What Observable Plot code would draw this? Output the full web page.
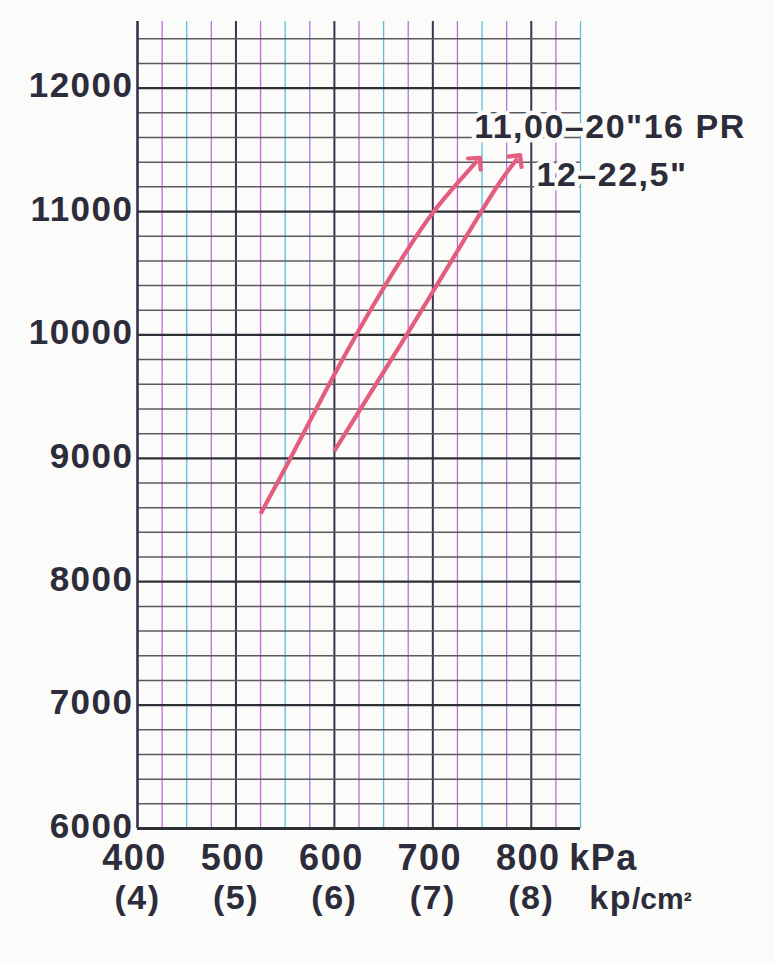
<!DOCTYPE html>
<html>
<head>
<meta charset="utf-8">
<script src="https://cdn.jsdelivr.net/npm/d3@7"></script>
<script src="https://cdn.jsdelivr.net/npm/@observablehq/plot@0.6"></script>
<style>
  html, body { margin: 0; padding: 0; background: #fbfbf9; }
  #chart svg { display: block; background: transparent; font-family: "Liberation Sans", Arial, Helvetica, sans-serif; }
  #chart svg text { letter-spacing: 1.5px; }
</style>
</head>
<body>
<div id="chart"></div>
<script>
// ---- data ----
const xTicks = [400, 500, 600, 700, 800];                       // kPa
const kpTicks = ["(4)", "(5)", "(6)", "(7)", "(8)"];           // kp/cm²
const yTicks = [6000, 7000, 8000, 9000, 10000, 11000, 12000];  // load
const seriesNames = ["11,00–20\"16 PR", "12–22,5\""];

// 11,00-20" 16 PR
const aPressure = [525, 550, 575, 600, 625, 650, 675, 700, 725, 745];
const aLoad     = [8550, 8920, 9300, 9680, 10040, 10380, 10700, 10990, 11230, 11410];
// 12-22,5"
const bPressure = [600, 625, 650, 675, 700, 725, 750, 770, 786];
const bLoad     = [9060, 9380, 9700, 10020, 10350, 10680, 11010, 11260, 11430];

// ---- derived tables ----
const hGrid = d3.range(6000, 12401, 200);
const vGrid = d3.range(400, 851, 25);
const rowsA = aPressure.map((p, i) => ({p, load: aLoad[i]}));
const rowsB = bPressure.map((p, i) => ({p, load: bLoad[i]}));
const lastA = [rowsA[rowsA.length - 1]];
const lastB = [rowsB[rowsB.length - 1]];

const ink = "#2d2c3a";
const paper = "#fbfbf9";
const curveColor = "#e45d7e";
const font = "Liberation Sans, Arial, sans-serif";

const chart = Plot.plot({
  width: 774,
  height: 963,
  marginLeft: 137,
  marginRight: 194,
  marginTop: 21,
  marginBottom: 135,
  x: {domain: [400, 850], axis: null},
  y: {domain: [6000, 12540], axis: null},
  marks: [
    // vertical grid (printed colour lines)
    Plot.ruleX(vGrid.filter((d, i) => i % 4 === 1), {stroke: "#c46ad3", strokeWidth: 1.3}),
    Plot.ruleX(vGrid.filter((d, i) => i % 4 === 2), {stroke: "#5cbedb", strokeWidth: 1.3}),
    Plot.ruleX(vGrid.filter((d, i) => i % 4 === 3), {stroke: "#b07ad8", strokeWidth: 1.3}),
    Plot.ruleX(vGrid.filter((d, i) => i % 4 === 0 && d !== 400), {stroke: "#3b3350", strokeWidth: 2}),
    // horizontal grid
    Plot.ruleY(hGrid.filter(d => d % 1000 !== 0), {x1: 400, x2: 850, stroke: "#5a5a60", strokeWidth: 1.5}),
    Plot.ruleY(hGrid.filter(d => d % 1000 === 0 && d !== 6000), {x1: 400, x2: 850, stroke: "#2f2f36", strokeWidth: 2.3}),
    // axes frame lines
    Plot.ruleX([400], {stroke: "#3a3150", strokeWidth: 2.6}),
    Plot.ruleY([6000], {x1: 400, x2: 850, stroke: "#2f2f36", strokeWidth: 3}),
    // curves
    Plot.line(rowsA, {x: "p", y: "load", stroke: curveColor, strokeWidth: 4.2, curve: "natural", markerEnd: "arrow", strokeLinecap: "butt"}),
    Plot.line(rowsB, {x: "p", y: "load", stroke: curveColor, strokeWidth: 4.2, curve: "natural", markerEnd: "arrow", strokeLinecap: "butt"}),
    // curve labels
    Plot.text(lastA, {x: "p", y: "load", text: () => seriesNames[0], dx: -3, dy: -34, textAnchor: "start",
      fontSize: 34, fontWeight: "bold", fontFamily: font, fill: ink, stroke: paper, strokeWidth: 9, paintOrder: "stroke"}),
    Plot.text(lastB, {x: "p", y: "load", text: () => seriesNames[1], dx: 19, dy: 17, textAnchor: "start",
      fontSize: 34, fontWeight: "bold", fontFamily: font, fill: ink, stroke: paper, strokeWidth: 9, paintOrder: "stroke"}),
    // y tick labels
    Plot.text(yTicks, {y: d => d, frameAnchor: "left", textAnchor: "end", dx: -4, dy: -2, text: d => String(d),
      fontSize: 35, fontWeight: "bold", fontFamily: font, fill: ink}),
    // x tick labels (kPa)
    Plot.text(xTicks, {x: d => d, frameAnchor: "bottom", dy: 41, dx: -3, text: d => String(d),
      fontSize: 36, fontWeight: "bold", fontFamily: font, fill: ink}),
    // x tick labels (kp/cm²)
    Plot.text(xTicks, {x: d => d, frameAnchor: "bottom", dy: 80, text: (d, i) => kpTicks[i],
      fontSize: 34, fontWeight: "bold", fontFamily: font, fill: ink}),
    // units
    Plot.text([800], {x: d => d, frameAnchor: "bottom", dy: 41, dx: 38, textAnchor: "start", text: () => "kPa",
      fontSize: 36, fontWeight: "bold", fontFamily: font, fill: ink}),
    Plot.text([800], {x: d => d, frameAnchor: "bottom", dy: 80, dx: 58, textAnchor: "start", text: () => "kp/cm²",
      fontSize: 34, fontWeight: "bold", fontFamily: font, fill: ink})
  ]
});

// render "kp/cm²" with a smaller "/cm²"
d3.select(chart).selectAll("text").each(function () {
  if (this.textContent === "kp/cm²") {
    const t = d3.select(this);
    t.text(null);
    t.append("tspan").text("kp");
    t.append("tspan").attr("font-size", 30).attr("letter-spacing", "0px").text("/cm");
    t.append("tspan").attr("font-size", 24).text("²");
  }
});

document.getElementById("chart").appendChild(chart);
</script>
</body>
</html>
